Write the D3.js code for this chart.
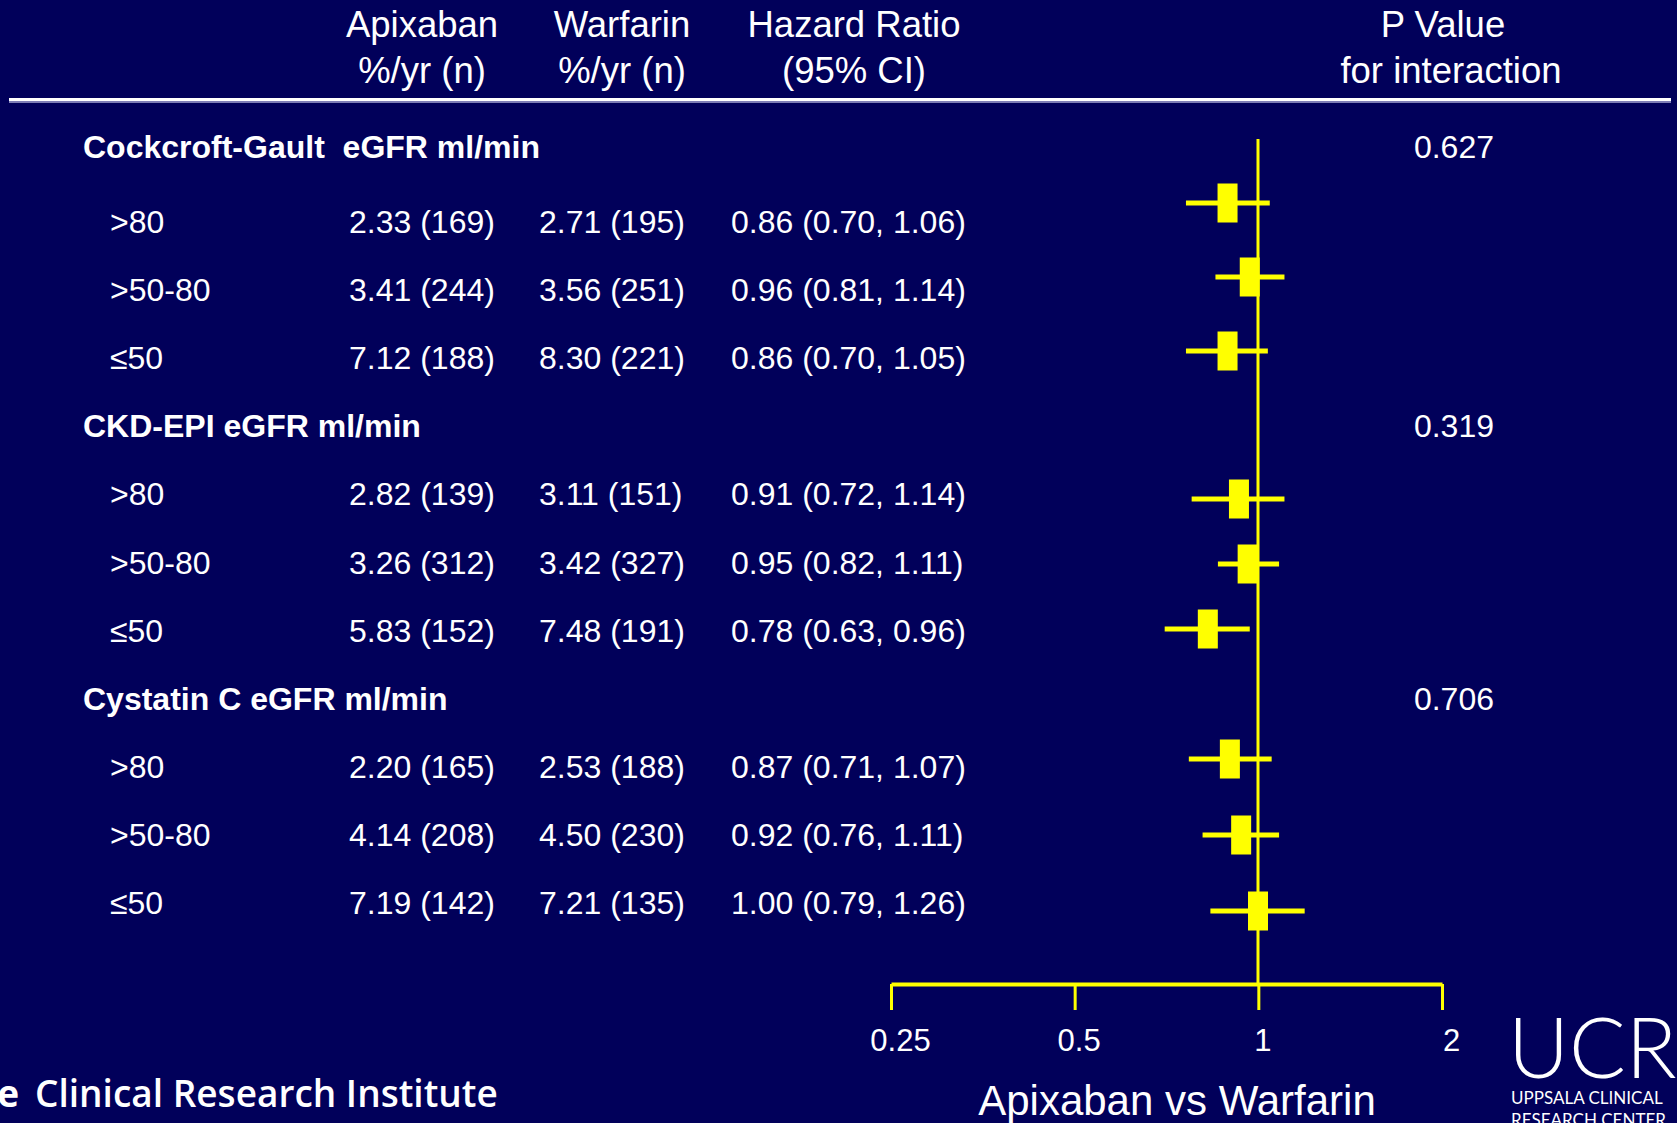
<!DOCTYPE html>
<html>
<head>
<meta charset="utf-8">
<script src="https://cdn.jsdelivr.net/npm/d3@7"></script>
<style>
  html, body { margin: 0; padding: 0; background: #01005a; overflow: hidden; }
  svg { display: block; }
</style>
</head>
<body>
<svg id="chart" width="1677" height="1123"></svg>
<script>
// ---- data ----
const groups = ["Cockcroft-Gault  eGFR ml/min", "CKD-EPI eGFR ml/min", "Cystatin C eGFR ml/min"];
const pInteraction = ["0.627", "0.319", "0.706"];
const strata = [">80", ">50-80", "≤50"];
const apixabanRate = [2.33, 3.41, 7.12, 2.82, 3.26, 5.83, 2.20, 4.14, 7.19];
const apixabanN    = [169, 244, 188, 139, 312, 152, 165, 208, 142];
const warfarinRate = [2.71, 3.56, 8.30, 3.11, 3.42, 7.48, 2.53, 4.50, 7.21];
const warfarinN    = [195, 251, 221, 151, 327, 191, 188, 230, 135];
const hazardRatio  = [0.86, 0.96, 0.86, 0.91, 0.95, 0.78, 0.87, 0.92, 1.00];
const ciLow        = [0.70, 0.81, 0.70, 0.72, 0.82, 0.63, 0.71, 0.76, 0.79];
const ciHigh       = [1.06, 1.14, 1.05, 1.14, 1.11, 0.96, 1.07, 1.11, 1.26];
const axisTicks    = [0.25, 0.5, 1, 2];
const columnHeads  = [
  ["Apixaban", "%/yr (n)"],
  ["Warfarin", "%/yr (n)"],
  ["Hazard Ratio", "(95% CI)"],
  ["P Value", "for interaction"]
];

// ---- layout ----
const W = 1677, H = 1123;
const svg = d3.select("#chart");
const BG = "#01005a", YEL = "#ffff00", WHITE = "#ffffff";
const SANS = "'Liberation Sans', Arial, Helvetica, sans-serif";

svg.append("rect").attr("width", W).attr("height", H).attr("fill", BG);

// table rows: group title at row g*4, strata at g*4+1..3
const rows = [];
groups.forEach((g, gi) => {
  rows.push({ type: "group", row: gi * 4, label: g, p: pInteraction[gi] });
  strata.forEach((s, si) => {
    const k = gi * 3 + si;
    rows.push({
      type: "stratum", row: gi * 4 + si + 1, label: s,
      apix: `${d3.format(".2f")(apixabanRate[k])} (${apixabanN[k]})`,
      warf: `${d3.format(".2f")(warfarinRate[k])} (${warfarinN[k]})`,
      hrText: `${d3.format(".2f")(hazardRatio[k])} (${d3.format(".2f")(ciLow[k])}, ${d3.format(".2f")(ciHigh[k])})`,
      hr: hazardRatio[k], lo: ciLow[k], hi: ciHigh[k]
    });
  });
});

// text baselines per table row
const yText = d3.scaleLinear().domain([0, 1, 11]).range([158, 233, 914]);
// forest markers sit on their own vertical grid
const yMark = d3.scaleLinear().domain([1, 5, 9, 11]).range([203, 499, 759, 911]);

// horizontal scales: markers and printed axis
const xMark = d3.scaleLog().base(2).domain([0.25, 2]).range([978, 1398]);
const xAxisScale = d3.scaleLog().base(2).domain([0.25, 2]).range([891, 1442]);

const colX = { group: 83, label: 110, apix: 349, warf: 539, hr: 731, p: 1494 };

// ---- column headers ----
const headCenters = [422, 622, 854, 1448];
const head = svg.append("g").attr("font-family", SANS).attr("font-size", 36.5).attr("fill", WHITE)
  .attr("text-anchor", "middle");
columnHeads.forEach((lines, i) => {
  lines.forEach((t, j) => {
    head.append("text").attr("x", headCenters[i] + (i === 3 ? (j === 0 ? -5 : 3) : 0))
      .attr("y", j === 0 ? 37 : 82.5).text(t);
  });
});

// header rule
svg.append("line").attr("x1", 9).attr("x2", 1671).attr("y1", 99.5).attr("y2", 99.5)
  .attr("stroke", WHITE).attr("stroke-width", 3);
svg.append("line").attr("x1", 9).attr("x2", 1671).attr("y1", 102).attr("y2", 102)
  .attr("stroke", "#a9a9d6").attr("stroke-width", 1.5);

// ---- table text ----
const table = svg.append("g").attr("font-family", SANS).attr("font-size", 32).attr("fill", WHITE);

const groupRows = rows.filter(r => r.type === "group");
table.selectAll("text.group").data(groupRows).join("text")
  .attr("class", "group").attr("x", colX.group).attr("y", d => yText(d.row))
  .attr("font-weight", "bold").style("white-space", "pre").attr("xml:space", "preserve")
  .text(d => d.label);
table.selectAll("text.pval").data(groupRows).join("text")
  .attr("class", "pval").attr("x", colX.p).attr("y", d => yText(d.row))
  .attr("text-anchor", "end").text(d => d.p);

const stratumRows = rows.filter(r => r.type === "stratum");
[["label", "label"], ["apix", "apix"], ["warf", "warf"], ["hr", "hrText"]].forEach(([col, key]) => {
  table.selectAll(`text.c-${col}`).data(stratumRows).join("text")
    .attr("class", `c-${col}`).attr("x", colX[col]).attr("y", d => yText(d.row))
    .text(d => d[key]);
});

// ---- forest plot ----
const plot = svg.append("g");
const axisY = 984;

// line of no effect
plot.append("line")
  .attr("x1", xMark(1)).attr("x2", xMark(1))
  .attr("y1", 139).attr("y2", axisY)
  .attr("stroke", YEL).attr("stroke-width", 3);

// confidence intervals
plot.selectAll("line.ci").data(stratumRows).join("line")
  .attr("class", "ci")
  .attr("x1", d => xMark(d.lo)).attr("x2", d => xMark(d.hi))
  .attr("y1", d => yMark(d.row)).attr("y2", d => yMark(d.row))
  .attr("stroke", YEL).attr("stroke-width", 5);

// point estimates
const boxW = 20, boxH = 39;
plot.selectAll("rect.pt").data(stratumRows).join("rect")
  .attr("class", "pt")
  .attr("x", d => xMark(d.hr) - boxW / 2).attr("y", d => yMark(d.row) - boxH / 2)
  .attr("width", boxW).attr("height", boxH)
  .attr("fill", YEL);

// axis
const axis = d3.axisBottom(xAxisScale)
  .tickValues(axisTicks)
  .tickFormat(d3.format(""))
  .tickSize(26).tickSizeOuter(0).tickPadding(19);
const gAxis = svg.append("g").attr("transform", `translate(0,${axisY})`).call(axis);
gAxis.select(".domain").attr("stroke", YEL).attr("stroke-width", 4);
gAxis.selectAll(".tick line").attr("stroke", YEL).attr("stroke-width", 3);
gAxis.selectAll(".tick text")
  .attr("fill", WHITE).attr("font-family", SANS).attr("font-size", 31)
  .attr("dx", d => (d === 0.25 || d === 2) ? 9 : 4);

// axis title
svg.append("text").attr("x", 1177).attr("y", 1115)
  .attr("text-anchor", "middle").attr("font-family", SANS).attr("font-size", 42)
  .attr("fill", WHITE).text("Apixaban vs Warfarin");

// ---- footer marks ----
const foot = svg.append("g").attr("fill", WHITE).attr("font-family", "'Open Sans', 'Noto Sans', sans-serif");
foot.append("text").attr("x", 19).attr("y", 1107).attr("text-anchor", "end")
  .attr("font-size", 37).attr("font-weight", "bold").text("Duke");
foot.append("text").attr("x", 35).attr("y", 1107)
  .attr("font-size", 37).attr("font-weight", 600).text("Clinical Research Institute");

const logo = svg.append("g").attr("fill", WHITE).attr("font-family", "Lato, 'Open Sans', sans-serif");
logo.append("text").attr("x", 1508).attr("y", 1078)
  .attr("font-size", 84).attr("font-weight", 300).text("UCR");
logo.append("text").attr("x", 1511).attr("y", 1104)
  .attr("font-size", 17).attr("font-weight", 400).text("UPPSALA CLINICAL");
logo.append("text").attr("x", 1511).attr("y", 1126)
  .attr("font-size", 17).attr("font-weight", 400).text("RESEARCH CENTER");
</script>
</body>
</html>
